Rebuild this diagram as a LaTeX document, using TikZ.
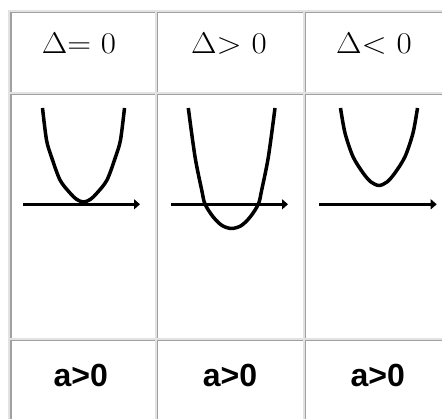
\documentclass[tikz,border=0pt]{standalone}
\usepackage{fix-cm}
\usepackage{fontspec}
\newfontfamily\arialbf{Liberation Sans}
\usetikzlibrary{arrows.meta}
\definecolor{celldark}{HTML}{A0A0A0}
\definecolor{celllight}{HTML}{E2E2E2}
\newcommand{\widetext}[1]{\scalebox{1.1}[1]{#1}}
\begin{document}
\begin{tikzpicture}[x=1pt, y=-1pt,
    curve/.style={line width=3.5pt, line join=round},
    axisline/.style={line width=3.5pt, -{Triangle[length=6pt,width=10pt]}},
    headtext/.style={font=\fontsize{30}{34}\selectfont, anchor=base},
    signtext/.style={font=\arialbf\bfseries\fontsize{32}{36}\selectfont, anchor=base}]
  \useasboundingbox (0,0) rectangle (442,419);
  \fill[white] (0,0) rectangle (442,419);
  % Table outline
  \fill[celllight] (8,10) rectangle (442,12);
  \fill[celllight] (8,10) rectangle (10,419);
  % Cell borders
  \foreach \xa/\xb in {10/156.5, 156.5/304.5, 304.5/444}{
    \foreach \ya/\yb in {12/94, 94/340, 340/421}{
      \fill[celllight] (\xa,\yb-1.5) rectangle (\xb,\yb);
      \fill[celllight] (\xb-1.5,\ya) rectangle (\xb,\yb);
      \fill[celldark] (\xa,\ya) rectangle (\xb-1.5,\ya+1.5);
      \fill[celldark] (\xa,\ya) rectangle (\xa+1.5,\yb-1.5);
    }
  }

  % Discriminant row
  \node[headtext] (dzero) at (79,53.5) {\widetext{$\Delta$= 0}};
  \node[headtext] (dpos) at (229,53.5) {\widetext{$\Delta$> 0}};
  \node[headtext] (dneg) at (374,53.5) {\widetext{$\Delta$< 0}};

  % Graphs
  \draw[axisline] (23,204.3) -- (140,204.3);
  \draw[curve] plot[smooth] coordinates {(42.5,108) (46.5,140) (51.5,157)
    (60,180) (70,193) (76.5,199.3) (83.5,202) (90.5,199.3) (97,193)
    (107,180) (115.5,157) (120.5,140) (124.5,108)};

  \draw[axisline] (171,204.3) -- (288,204.3);
  \draw[curve] plot[smooth] coordinates {(188.3,108) (195,156.7) (201.7,190)
    (205,204) (213,216.7) (222,225.5) (231.7,228.5) (241.4,225.5)
    (250.4,216.7) (258.4,204) (261.7,190) (268.4,156.7) (275,108)};

  \draw[axisline] (319.3,204.3) -- (436.7,204.3);
  \draw[curve] plot[smooth] coordinates {(340.5,108) (345,133) (353,156.7)
    (363.3,173.3) (371,182) (379,185.5) (387,182) (394.7,173.3) (405,156.7)
    (413,133) (417.5,108)};

  % Sign of a
  \node[signtext] (afirst) at (80.8,387) {a>0};
  \node[signtext] (asecond) at (230,387) {a>0};
  \node[signtext] (athird) at (377.8,387) {a>0};
\end{tikzpicture}
\end{document}
